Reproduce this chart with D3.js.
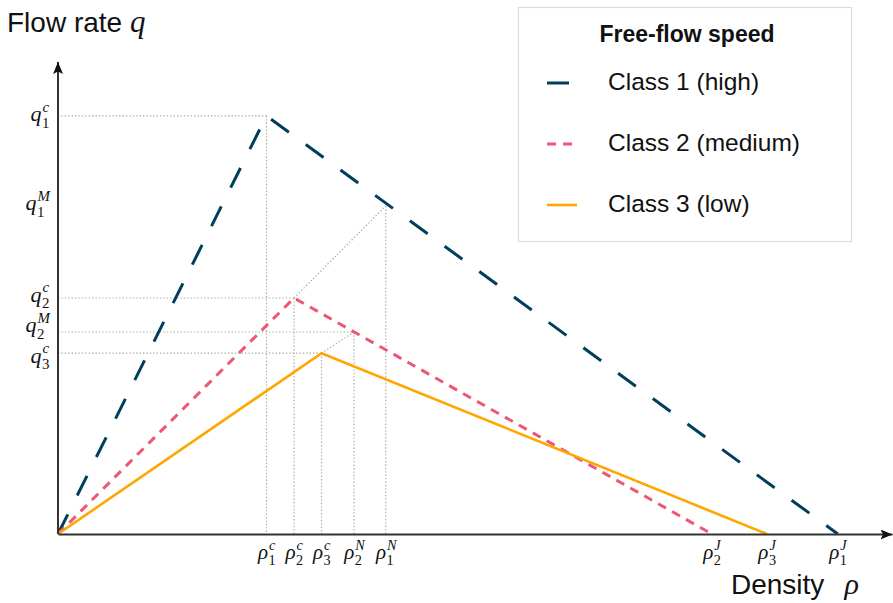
<!DOCTYPE html>
<html>
<head>
<meta charset="utf-8">
<script src="https://cdn.jsdelivr.net/npm/d3@7"></script>
<style>
  body { margin: 0; background: #fff; }
</style>
</head>
<body>
<div id="chart"></div>
<script>
const width = 893;
const height = 603;

// legend
const classNames = ["Class 1 (high)", "Class 2 (medium)", "Class 3 (low)"];
const classColors = ["#003f5c", "#ef5675", "#ffa600"];

// corner points of each triangle (density, flow)
const class1 = [[0, 0], [25, 88.6], [93.5, 0]];
const class2 = [[0, 0], [28.3, 50], [78.4, 0]];
const class3 = [[0, 0], [31.6, 38.3], [85, 0]];

// density ticks
const rhoTicks = [25, 28.3, 31.6, 35.5, 39.3, 78.4, 85, 93.5];
const rhoSubs = ["1", "2", "3", "2", "1", "2", "3", "1"];
const rhoSups = ["c", "c", "c", "N", "N", "J", "J", "J"];

// flow ticks
const qTicks = [88.6, 69.5, 50, 42.8, 38.3];
const qSubs = ["1", "1", "2", "2", "3"];
const qSups = ["c", "M", "c", "M", "c"];

// dotted helper segments
const guides = [
  [[0, 88.6], [25, 88.6]], [[25, 88.6], [25, 0]],
  [[0, 50], [28.3, 50]], [[28.3, 50], [28.3, 0]],
  [[0, 42.8], [35.5, 42.8]], [[35.5, 42.8], [35.5, 0]],
  [[0, 38.3], [31.6, 38.3]], [[31.6, 38.3], [31.6, 0]],
  [[39.3, 69.5], [39.3, 0]],
  [[28.3, 50], [39.3, 69.5]],
  [[31.6, 38.3], [35.5, 42.8]]
];

const series = [class1, class2, class3];
const dashes = ["22,21", "9,7", null];
const widths = [3, 3, 2.6];
// nudge of the crowded q labels (px), as in the original figure
const qNudge = [5, 4, 3, 0, 9];

const mathFont = "'Liberation Serif', 'DejaVu Serif', serif";
const sansFont = "'Liberation Sans', Arial, sans-serif";

const svg = d3.select("#chart")
  .append("svg")
  .attr("width", width)
  .attr("height", height);

const x = d3.scaleLinear().domain([0, 100]).range([58, 892]);
const y = d3.scaleLinear().domain([0, 100]).range([534, 62]);

svg.append("defs").append("marker")
  .attr("id", "arrow")
  .attr("markerUnits", "userSpaceOnUse")
  .attr("markerWidth", 12)
  .attr("markerHeight", 10)
  .attr("refX", 12)
  .attr("refY", 5)
  .attr("orient", "auto")
  .append("path")
  .attr("d", "M0,0L12,5L0,10L2.5,5Z")
  .attr("fill", "#111");

// guide lines first so the curves sit on top
svg.append("g")
  .selectAll("line")
  .data(guides)
  .enter()
  .append("line")
  .attr("x1", d => x(d[0][0]))
  .attr("y1", d => y(d[0][1]))
  .attr("x2", d => x(d[1][0]))
  .attr("y2", d => y(d[1][1]))
  .attr("stroke", "#aaa")
  .attr("stroke-width", 1.2)
  .attr("stroke-dasharray", "1.4,2");

const line = d3.line().x(d => x(d[0])).y(d => y(d[1]));

svg.append("g")
  .selectAll("path")
  .data(series)
  .enter()
  .append("path")
  .attr("d", line)
  .attr("fill", "none")
  .attr("stroke", (d, i) => classColors[i])
  .attr("stroke-width", (d, i) => widths[i])
  .attr("stroke-dasharray", (d, i) => dashes[i]);

// puts q_1^c style labels into g, returns total width
function mathLabel(g, base, sub, sup, size) {
  g.attr("fill", "#111").attr("text-anchor", "start");
  const b = g.append("text")
    .attr("font-family", mathFont)
    .attr("font-style", "italic")
    .attr("font-size", size)
    .text(base);
  const bw = b.node().getComputedTextLength();
  const s1 = g.append("text")
    .attr("x", bw + 0.5)
    .attr("y", size * 0.3)
    .attr("font-family", mathFont)
    .attr("font-size", size * 0.68)
    .text(sub);
  const s2 = g.append("text")
    .attr("x", bw + 1)
    .attr("y", -size * 0.42)
    .attr("font-family", mathFont)
    .attr("font-style", "italic")
    .attr("font-size", size * 0.68)
    .text(sup);
  return bw + 1 + Math.max(s1.node().getComputedTextLength(), s2.node().getComputedTextLength());
}

// x axis
const xAxis = svg.append("g")
  .attr("transform", `translate(0,${y(0)})`)
  .call(d3.axisBottom(x).tickValues(rhoTicks).tickSize(0).tickSizeOuter(0).tickFormat(""));
xAxis.select(".domain").attr("stroke", "#333").attr("stroke-width", 2).attr("marker-end", "url(#arrow)");
xAxis.selectAll(".tick").each(function(d, i) {
  const g = d3.select(this).append("g");
  const w = mathLabel(g, "ρ", rhoSubs[i], rhoSups[i], 21);
  g.attr("transform", `translate(${-w / 2},25)`);
});

// y axis
const yAxis = svg.append("g")
  .attr("transform", `translate(${x(0)},0)`)
  .call(d3.axisLeft(y).tickValues(qTicks).tickSize(0).tickSizeOuter(0).tickFormat(""));
yAxis.select(".domain").attr("stroke", "#333").attr("stroke-width", 2).attr("marker-end", "url(#arrow)");
yAxis.selectAll(".domain").attr("d", `M0,${y(0)}V${y(100)}`);
yAxis.selectAll(".tick").each(function(d, i) {
  const g = d3.select(this).append("g");
  const w = mathLabel(g, "q", qSubs[i], qSups[i], 22);
  g.attr("transform", `translate(${-w - 8},${qNudge[i]})`);
});

// axis titles
const yt = svg.append("text")
  .attr("x", 7)
  .attr("y", 32)
  .attr("font-family", sansFont)
  .attr("font-size", 28)
  .attr("fill", "#111")
  .text("Flow rate ");
yt.append("tspan")
  .attr("font-family", mathFont)
  .attr("font-style", "italic")
  .attr("font-size", 31)
  .text("q");

const xt = svg.append("text")
  .attr("x", 731)
  .attr("y", 594)
  .attr("font-family", sansFont)
  .attr("font-size", 28)
  .attr("fill", "#111")
  .text("Density");
xt.append("tspan")
  .attr("dx", 20)
  .attr("font-family", mathFont)
  .attr("font-style", "italic")
  .attr("font-size", 30)
  .text("ρ");

// legend
const legend = svg.append("g");
legend.append("rect")
  .attr("x", 518.5)
  .attr("y", 7.5)
  .attr("width", 333)
  .attr("height", 234)
  .attr("fill", "#fff")
  .attr("stroke", "#ddd")
  .attr("stroke-width", 1.2);
legend.append("text")
  .attr("x", 687)
  .attr("y", 42)
  .attr("text-anchor", "middle")
  .attr("font-family", sansFont)
  .attr("font-weight", "bold")
  .attr("font-size", 23)
  .attr("fill", "#111")
  .text("Free-flow speed");

const rows = legend.selectAll(".row")
  .data(classNames)
  .enter()
  .append("g")
  .attr("class", "row")
  .attr("transform", (d, i) => `translate(0,${83 + i * 61})`);
rows.append("line")
  .attr("x1", 547)
  .attr("x2", 577)
  .attr("stroke", (d, i) => classColors[i])
  .attr("stroke-width", (d, i) => widths[i])
  .attr("stroke-dasharray", (d, i) => dashes[i]);
rows.append("text")
  .attr("x", 608)
  .attr("y", 7)
  .attr("font-family", sansFont)
  .attr("font-size", 24.5)
  .attr("fill", "#111")
  .text(d => d);
</script>
</body>
</html>
